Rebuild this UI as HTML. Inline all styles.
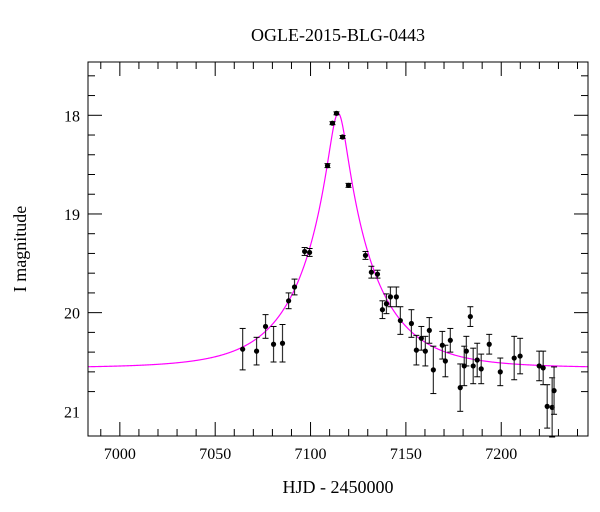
<!DOCTYPE html>
<html><head><meta charset="utf-8"><style>
body{margin:0;background:#fff;}
svg{display:block;font-family:"Liberation Serif",serif;}
</style></head><body>
<svg id="chart" width="600" height="512">
<text x="338" y="41" font-size="18" text-anchor="middle">OGLE-2015-BLG-0443</text>
<text x="338" y="493" font-size="18" text-anchor="middle">HJD - 2450000</text>
<text x="26" y="249" font-size="18" text-anchor="middle" transform="rotate(-90 26 249)">I magnitude</text>
<g id="ticks"></g>
<g id="curve"></g>
<g id="points"></g>
<rect x="88" y="62" width="500" height="374" fill="none" stroke="#000" stroke-width="1"/>
</svg>
<script>
const hjd=[7064.4,7071.7,7076.4,7080.6,7085.3,7088.5,7091.6,7096.9,7099.5,7108.9,7111.5,7113.6,7116.8,7119.9,7128.8,7131.9,7135.1,7137.7,7139.8,7141.9,7145.0,7147.1,7152.9,7155.5,7158.1,7160.2,7162.3,7164.4,7169.1,7170.7,7173.3,7178.5,7180.6,7181.7,7183.8,7185.3,7187.4,7189.5,7193.7,7199.5,7206.8,7209.9,7219.9,7222.0,7224.1,7226.7,7227.7];
const mag=[20.37,20.39,20.14,20.32,20.31,19.88,19.74,19.38,19.39,18.51,18.08,17.98,18.22,18.71,19.42,19.59,19.61,19.97,19.91,19.84,19.84,20.08,20.11,20.38,20.26,20.39,20.18,20.58,20.33,20.49,20.28,20.76,20.54,20.39,20.04,20.54,20.48,20.57,20.32,20.60,20.46,20.44,20.54,20.56,20.95,20.96,20.79];
const err=[0.21,0.14,0.12,0.18,0.19,0.08,0.08,0.04,0.04,0.02,0.015,0.015,0.015,0.02,0.04,0.06,0.04,0.09,0.1,0.1,0.1,0.14,0.14,0.15,0.12,0.15,0.13,0.24,0.14,0.16,0.12,0.24,0.2,0.15,0.1,0.18,0.17,0.15,0.1,0.14,0.22,0.18,0.15,0.17,0.22,0.3,0.24];
const xTicks=[7000,7050,7100,7150,7200];
const yTicks=[18,19,20,21];
const model={t0:7114.5,u0:0.134,tE:34.5,fs:1.5,base:20.56};
const X0=6983.3,X1=7245.5,Y0=17.46,Y1=21.25,L=88,R=588,T=62,B=436;
const sx=v=>L+(v-X0)/(X1-X0)*(R-L);
const sy=v=>T+(v-Y0)/(Y1-Y0)*(B-T);
const NS='http://www.w3.org/2000/svg';
function mk(tag,attrs,parent){const e=document.createElementNS(NS,tag);for(const k in attrs)e.setAttribute(k,attrs[k]);parent.appendChild(e);return e;}
const tg=document.getElementById('ticks');
for(let v=6990;v<=7240;v+=10){const x=sx(v);const major=v%50===0;const len=major?14:7;
 const t1=mk('line',{x1:x,x2:x,y1:B,y2:B-len,stroke:'#000'},tg);
 
 
 const t2=mk('line',{x1:x,x2:x,y1:T,y2:T+len,stroke:'#000'},tg);
 
 }
for(let i=-2;i<=16;i++){const v=17.6+i*0.2;if(v<Y0||v>Y1)continue;const y=sy(v);const major=Math.abs(v-Math.round(v))<1e-6;const len=major?14:7;
 const t1=mk('line',{x1:L,x2:L+len,y1:y,y2:y,stroke:'#000'},tg);
 
 
 const t2=mk('line',{x1:R,x2:R-len,y1:y,y2:y,stroke:'#000'},tg);
 
 }
xTicks.forEach(v=>{const t=mk('text',{x:sx(v),y:B+23,'font-size':16,'text-anchor':'middle'},tg);t.textContent=v;
 
 });
yTicks.forEach(v=>{const t=mk('text',{x:L-8,y:sy(v)+6,'font-size':16,'text-anchor':'end'},tg);t.textContent=v;
 
 });
function modelMag(t){const u=Math.sqrt(model.u0*model.u0+Math.pow((t-model.t0)/model.tE,2));const A=(u*u+2)/(u*Math.sqrt(u*u+4));return model.base-2.5*Math.log10(model.fs*A+(1-model.fs));}
let d='';for(let t=X0;t<=X1;t+=0.25){d+=(d?'L':'M')+sx(t).toFixed(2)+','+sy(modelMag(t)).toFixed(2);}
const cp=mk('path',{d:d,fill:'none',stroke:'#ff00ff','stroke-width':1.2},document.getElementById('curve'));


const pg=document.getElementById('points');
hjd.forEach((h,i)=>{const x=sx(h),y=sy(mag[i]),y1=sy(mag[i]-err[i]),y2=sy(mag[i]+err[i]);
 const g=mk('g',{},pg);
 
 
 mk('line',{x1:x,x2:x,y1:y1,y2:y2,stroke:'#333','stroke-width':1.2},g);
 mk('line',{x1:x-3,x2:x+3,y1:y1,y2:y1,stroke:'#000','stroke-width':1},g);
 mk('line',{x1:x-3,x2:x+3,y1:y2,y2:y2,stroke:'#000','stroke-width':1},g);
 mk('circle',{cx:x,cy:y,r:2.6,fill:'#000'},g);});
</script>
</body></html>
